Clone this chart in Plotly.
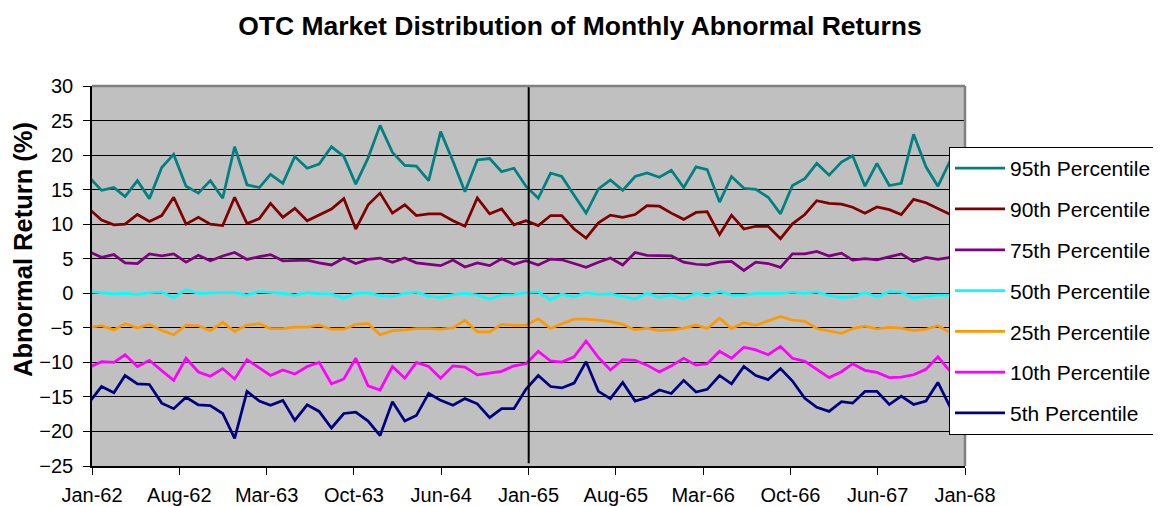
import pandas as pd
import plotly.graph_objects as go

# ---- data ----
months = pd.date_range("1961-12-01", periods=73, freq="MS") + pd.Timedelta(days=24)

p95 = [16.8, 14.9, 15.3, 14.0, 16.3, 13.7, 18.2, 20.1, 15.5, 14.5,
       16.3, 13.75, 21.2, 15.7, 15.3, 17.2, 15.9, 19.8, 18.1, 18.7,
       21.2, 19.8, 15.8, 19.6, 24.3, 20.4, 18.5, 18.4, 16.3, 23.4,
       19.1, 14.7, 19.3, 19.5, 17.6, 18.1, 15.5, 13.75, 17.4, 16.9,
       14.2, 11.6, 15.1, 16.4, 14.9, 16.9, 17.4, 16.8, 17.8, 15.3,
       18.3, 17.9, 13.2, 16.9, 15.2, 15.05, 13.9, 11.5, 15.6, 16.6,
       18.8, 17.1, 19.0, 19.9, 15.5, 18.8, 15.6, 15.9, 23.0, 18.3,
       15.5, 19.2, 19.6]
p90 = [12.2, 10.6, 9.9, 10.0, 11.4, 10.4, 11.25, 13.9, 10.0, 11.0,
       10.0, 9.8, 13.9, 10.1, 10.8, 13.0, 11.0, 12.3, 10.5, 11.3,
       12.2, 13.7, 9.3, 12.8, 14.5, 11.6, 12.8, 11.25, 11.5, 11.5,
       10.5, 9.7, 13.8, 11.5, 12.2, 9.9, 10.5, 9.8, 11.25, 11.25,
       9.3, 8.0, 10.2, 11.3, 11.0, 11.4, 12.7, 12.6, 11.6, 10.7,
       11.7, 11.8, 8.5, 11.3, 9.3, 9.7, 9.7, 7.9, 10.05, 11.4,
       13.4, 13.0, 12.9, 12.45, 11.6, 12.5, 12.1, 11.4, 13.6, 13.1,
       12.3, 11.4, 11.0]
p75 = [6.0, 5.2, 5.6, 4.4, 4.3, 5.7, 5.4, 5.7, 4.5, 5.5,
       4.7, 5.4, 5.9, 4.9, 5.3, 5.6, 4.7, 4.7, 4.8, 4.4,
       4.1, 5.1, 4.3, 4.9, 5.1, 4.5, 5.1, 4.4, 4.2, 4.0,
       4.8, 3.8, 4.4, 4.0, 5.0, 4.2, 4.7, 4.1, 4.95, 4.85,
       4.3, 3.75, 4.5, 5.1, 4.1, 5.9, 5.5, 5.4, 5.4, 4.5,
       4.2, 4.1, 4.5, 4.6, 3.3, 4.5, 4.3, 3.75, 5.7, 5.7,
       6.05, 5.4, 5.8, 4.8, 5.0, 4.85, 5.3, 5.7, 4.6, 5.2,
       4.9, 5.2, 5.3]
p50 = [0.24, 0.1, -0.1, 0.0, -0.15, 0.1, 0.15, -0.6, 0.5, 0.0,
       0.1, 0.1, 0.1, -0.25, 0.25, 0.15, 0.0, -0.25, 0.1, -0.1,
       -0.1, -0.7, 0.0, 0.05, -0.35, -0.5, 0.0, 0.15, -0.4, -0.6,
       -0.2, 0.0, -0.25, -0.85, -0.25, -0.2, 0.1, 0.2, -0.95, -0.1,
       -0.5, 0.1, -0.15, -0.1, -0.45, -0.8, 0.0, -0.6, -0.25, -0.8,
       0.0, -0.35, 0.25, -0.25, -0.25, 0.0, 0.0, 0.0, 0.15, 0.0,
       0.2, -0.35, -0.6, -0.5, 0.1, -0.5, 0.25, 0.15, -0.7, -0.4,
       -0.25, -0.25, -0.25]
p25 = [-4.9, -4.7, -5.3, -4.4, -5.0, -4.5, -5.4, -6.0, -4.6, -4.7,
       -5.4, -4.2, -5.5, -4.6, -4.4, -5.1, -5.1, -4.9, -4.9, -4.6,
       -5.2, -5.2, -4.5, -4.4, -6.0, -5.4, -5.3, -5.1, -5.1, -5.2,
       -5.0, -3.9, -5.6, -5.6, -4.5, -4.65, -4.6, -3.7, -5.1, -4.4,
       -3.75, -3.75, -3.9, -4.1, -4.5, -5.3, -5.05, -5.4, -5.3, -5.05,
       -4.6, -5.1, -3.6, -5.1, -4.25, -4.65, -4.0, -3.35, -3.9, -4.05,
       -5.1, -5.4, -5.8, -5.1, -4.75, -5.15, -4.95, -5.05, -5.4, -5.2,
       -4.7, -5.7, -5.5]
p10 = [-10.7, -9.9, -10.0, -8.9, -10.6, -9.7, -11.2, -12.6, -9.4, -11.4,
       -12.0, -10.9, -12.4, -9.6, -10.8, -11.9, -11.1, -11.7, -10.6, -10.0,
       -13.1, -12.4, -9.4, -13.4, -14.0, -10.6, -12.3, -10.0, -10.6, -12.3,
       -10.5, -10.7, -11.8, -11.6, -11.3, -10.5, -10.2, -8.4, -9.8, -9.95,
       -9.2, -6.9, -9.3, -11.1, -9.6, -9.7, -10.4, -11.4, -10.5, -9.4,
       -10.4, -10.2, -8.4, -9.4, -7.8, -8.2, -8.9, -7.7, -9.4, -9.85,
       -11.05, -12.2, -11.35, -10.2, -11.15, -11.45, -12.2, -12.15, -11.8, -11.0,
       -9.2, -11.3, -11.5]
p5 = [-15.8, -13.5, -14.4, -11.9, -13.1, -13.2, -15.9, -16.7, -15.05, -16.15,
      -16.25, -17.4, -21.0, -14.2, -15.6, -16.2, -15.5, -18.4, -16.15, -17.1,
      -19.5, -17.4, -17.2, -18.5, -20.6, -15.7, -18.5, -17.7, -14.5, -15.5,
      -16.2, -15.25, -16.0, -18.0, -16.7, -16.7, -13.9, -11.9, -13.5, -13.7,
      -13.0, -9.9, -14.2, -15.25, -12.9, -15.6, -15.1, -14.0, -14.5, -12.6,
      -14.3, -13.9, -11.9, -13.1, -10.6, -11.9, -12.5, -10.9, -12.7, -15.2,
      -16.5, -17.1, -15.7, -15.9, -14.2, -14.2, -16.1, -14.9, -16.1, -15.6,
      -12.9, -16.5, -16.0]

series_names = ["95th Percentile", "90th Percentile", "75th Percentile",
                "50th Percentile", "25th Percentile", "10th Percentile",
                "5th Percentile"]
series_values = [p95, p90, p75, p50, p25, p10, p5]
series_colors = ["#008080", "#800000", "#800080", "#00FFFF",
                 "#FF9900", "#FF00FF", "#000080"]

x_start, x_end = "1962-01-01", "1968-01-01"
tick_labels = ["Jan-62", "Aug-62", "Mar-63", "Oct-63", "Jun-64", "Jan-65",
               "Aug-65", "Mar-66", "Oct-66", "Jun-67", "Jan-68"]
tick_positions = pd.date_range(x_start, x_end, periods=len(tick_labels))

break_date = "1965-01-01"
break_span = [-24.6, 30.4]

FONT = "Liberation Sans, Arial, sans-serif"

# page body has an 8px default margin -> figure drawn at (8, 8)
PAGE_OFF = 8
W, H = 1161 - PAGE_OFF, 506 - PAGE_OFF
L, T, R, B = 92 - PAGE_OFF, 86 - PAGE_OFF, 196, 40
PW, PH = W - L - R, H - T - B

fig = go.Figure()
for name, vals, col in zip(series_names, series_values, series_colors):
    fig.add_trace(go.Scatter(x=months, y=vals, mode="lines", name=name,
                             legendgroup=name,
                             line=dict(color=col, width=2.75)))

fig.add_shape(type="line", xref="x", yref="y", x0=break_date, x1=break_date,
              y0=break_span[0], y1=break_span[1],
              line=dict(color="black", width=2), layer="above")
# plot frame (top & right)
fig.add_shape(type="line", xref="x domain", yref="y domain", x0=0, x1=1,
              y0=1, y1=1, line=dict(color="#808080", width=2.5), layer="above")
fig.add_shape(type="line", xref="x domain", yref="y domain", x0=1, x1=1,
              y0=0, y1=1, line=dict(color="#808080", width=2.5), layer="above")

fig.add_annotation(text="<b>Abnormal Return (%)</b>", textangle=-90,
                   xref="paper", yref="paper",
                   x=(23 - 92) / PW, y=1 - (250 - 86) / PH,
                   xanchor="center", yanchor="middle", showarrow=False,
                   font=dict(family=FONT, size=25.5, color="black"))

fig.update_layout(
    width=W, height=H,
    margin=dict(l=L, r=R, t=T, b=B, autoexpand=False),
    paper_bgcolor="white", plot_bgcolor="#C0C0C0",
    font=dict(family=FONT, color="black", size=20),
    title=dict(text="<b>OTC Market Distribution of Monthly Abnormal Returns</b>",
               xref="paper", yref="container", x=(580 - 92) / PW,
               y=1 - (26 - PAGE_OFF) / H,
               xanchor="center", yanchor="middle",
               font=dict(family=FONT, size=26.5, color="black")),
    showlegend=True,
    legend=dict(x=(949 - 92) / PW, xanchor="left",
                y=1 - (147 - 86) / PH, yanchor="top",
                bgcolor="white", bordercolor="black", borderwidth=1,
                font=dict(family=FONT, size=21, color="black"),
                itemwidth=50, tracegroupgap=10.5),
    xaxis=dict(type="date", range=[x_start, x_end],
               tickmode="array", tickvals=tick_positions, ticktext=tick_labels,
               ticks="outside", ticklen=7, tickcolor="black", tickwidth=1,
               showline=True, linecolor="black", linewidth=1.5,
               showgrid=False, zeroline=False, ticklabelstandoff=3,
               tickfont=dict(family=FONT, size=20, color="black")),
    yaxis=dict(range=[-25, 30], tick0=0, dtick=5,
               ticks="outside", ticklen=7, tickcolor="black", tickwidth=1,
               showline=True, linecolor="black", linewidth=1.5,
               showgrid=True, gridcolor="black", gridwidth=1,
               zeroline=False, ticklabelstandoff=6,
               tickfont=dict(family=FONT, size=20, color="black")),
)

fig.write_html("out.html")
